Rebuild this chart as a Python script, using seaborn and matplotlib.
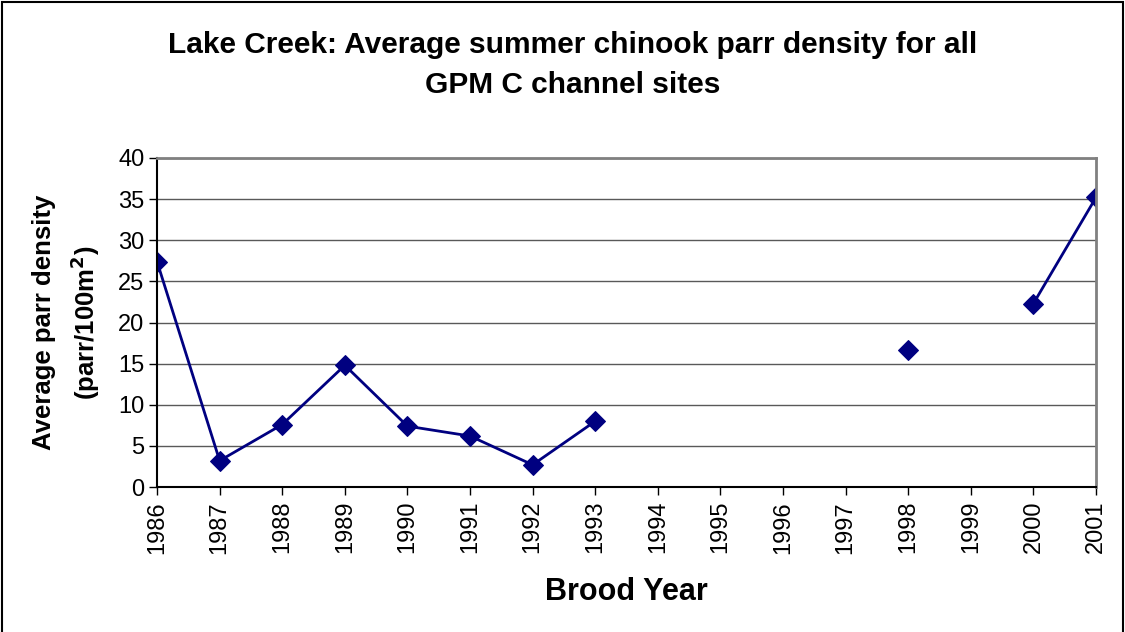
import numpy as np
import pandas as pd
import matplotlib
matplotlib.use("Agg")
import matplotlib.pyplot as plt
import seaborn as sns

years = list(range(1986, 2002))
density = [27.4, 3.2, 7.6, 14.8, 7.4, 6.2, 2.7, 8.0,
           np.nan, np.nan, np.nan, np.nan, 16.7, np.nan, 22.3, 35.2]

df = pd.DataFrame({"year": years, "density": density})
# split into connected runs so gaps break the line
df["segment"] = df["density"].isna().cumsum()
df = df.dropna()

sns.set_style("white")
plt.rcParams["font.family"] = ["Liberation Sans", "DejaVu Sans"]
plt.rcParams["text.color"] = "black"
plt.rcParams["axes.labelcolor"] = "black"
plt.rcParams["xtick.color"] = "black"
plt.rcParams["ytick.color"] = "black"

fig = plt.figure(figsize=(11.25, 6.32), dpi=100)
ax = fig.add_axes([0.1396, 0.2294, 0.9742 - 0.1396, 0.75 - 0.2294])

sns.lineplot(data=df, x="year", y="density", units="segment", estimator=None,
             color="#000080", linewidth=2, marker="D", markersize=10,
             markeredgecolor="#000080", ax=ax)

ax.set_xlim(1986, 2001)
ax.set_ylim(0, 40)
ax.set_xticks(years)
ax.set_xticklabels([str(y) for y in years], rotation=90, fontsize=17)
ax.set_yticks(range(0, 41, 5))
ax.tick_params(axis="y", labelsize=17, direction="out", length=6, width=1, left=True, pad=3)
ax.tick_params(axis="x", direction="out", length=6, width=1, bottom=True, pad=4)
ax.yaxis.grid(True, color="#303030", linewidth=1, alpha=0.8)
ax.set_axisbelow(True)
for side in ["left", "bottom"]:
    ax.spines[side].set_color("black")
    ax.spines[side].set_linewidth(1.5)
for side in ["top", "right"]:
    ax.spines[side].set_color("#808080")
    ax.spines[side].set_linewidth(2)

ax.set_xlabel("Brood Year", fontsize=22, fontweight="bold", va="center")
ax.xaxis.set_label_coords(0.5, (487 - 592) / 329)
ax.set_ylabel("Average parr density\n(parr/100m$^\\mathbf{2}$)", fontsize=18.5, fontweight="bold",
              linespacing=1.5, va="center")
ax.yaxis.set_label_coords((67 - 157) / 939, 0.5)

fig.text(0.509, 0.897, "Lake Creek: Average summer chinook parr density for all\nGPM C channel sites",
         ha="center", va="center", fontsize=21.5, fontweight="bold", linespacing=1.55)

# outer chart border
fig.add_artist(plt.Rectangle((0.002, -0.01), 0.996, 1.007, transform=fig.transFigure,
                             fill=False, edgecolor="black", linewidth=1.5))

fig.savefig("out.png", dpi=100)
